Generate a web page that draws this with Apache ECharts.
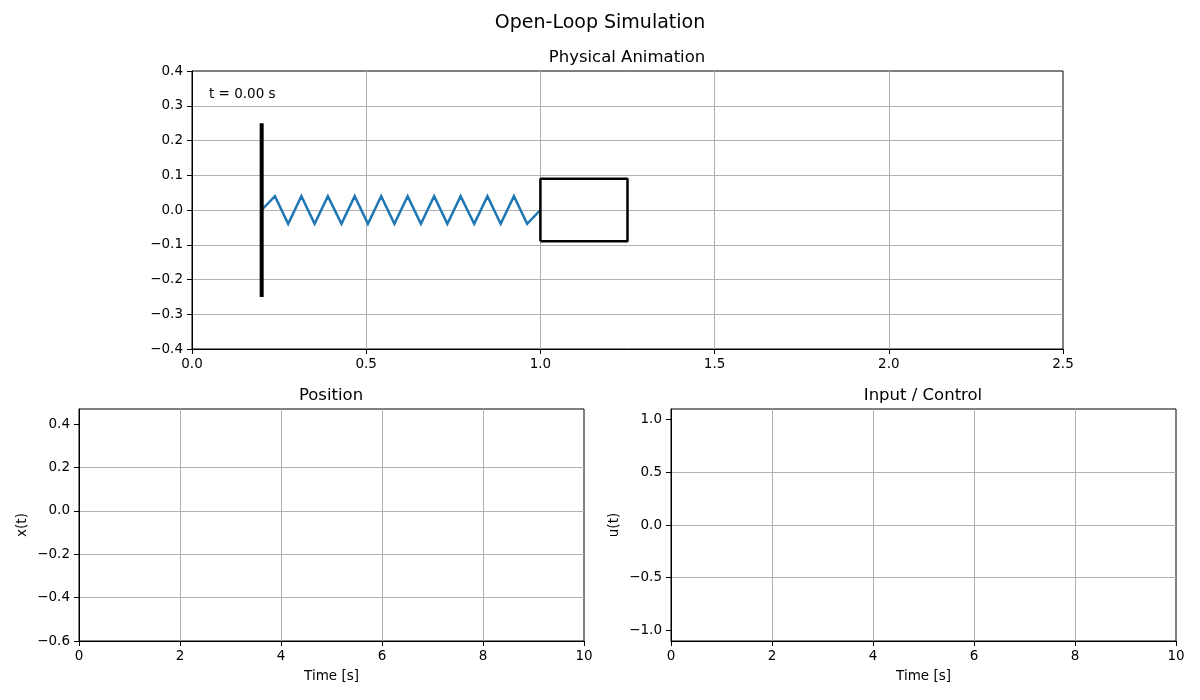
<!DOCTYPE html>
<html>
<head>
<meta charset="utf-8">
<title>Open-Loop Simulation</title>
<script src="https://cdn.jsdelivr.net/npm/echarts@6/dist/echarts.min.js"></script>
<style>
	html, body { margin: 0; padding: 0; background: #fff; }
	#chart { width: 1200px; height: 700px; }
</style>
</head>
<body>
<div id="chart"></div>
<script>
// spring zigzag (wall at 0.2, mass at 1.0)
var springX = [0.2, 0.238, 0.276, 0.314, 0.352, 0.390, 0.429, 0.467, 0.505, 0.543, 0.581,
	0.619, 0.657, 0.695, 0.733, 0.771, 0.810, 0.848, 0.886, 0.924, 0.962, 1.0];
var springY = [0, 0.04, -0.04, 0.04, -0.04, 0.04, -0.04, 0.04, -0.04, 0.04, -0.04,
	0.04, -0.04, 0.04, -0.04, 0.04, -0.04, 0.04, -0.04, 0.04, -0.04, 0];
// wall
var wallX = [0.2, 0.2];
var wallY = [-0.25, 0.25];
// mass box
var boxX = [1.0, 1.25, 1.25, 1.0, 1.0];
var boxY = [-0.09, -0.09, 0.09, 0.09, -0.09];
// time histories (empty at t = 0)
var timeData = [];
var positionData = [];
var controlData = [];
// tick values of the lower plots
var posTicks = [-0.6, -0.4, -0.2, 0.0, 0.2, 0.4];
var ctrlTicks = [-1.0, -0.5, 0.0, 0.5, 1.0];
var timeLabel = 't = 0.00 s';

var FONT = 'DejaVu Sans';

function zip(xs, ys) {
	var out = [];
	for (var i = 0; i < xs.length; i++) {
		out.push([xs[i], ys[i]]);
	}
	return out;
}

function fmt(digits) {
	return function (v) {
		var s = Math.abs(v).toFixed(digits);
		return v < -1e-9 ? '\u2212' + s : s;
	};
}

function xAxisOf(grid, min, max, interval, digits, name) {
	return {
		type: 'value', gridIndex: grid, min: min, max: max, interval: interval,
		name: name, nameLocation: 'middle', nameGap: 28,
		nameTextStyle: { fontFamily: FONT, fontSize: 13.5, color: '#000' },
		axisLine: { show: true, onZero: false, lineStyle: { color: '#000', width: 1 } },
		axisTick: { show: true, inside: false, length: 5, lineStyle: { color: '#000', width: 1 } },
		axisLabel: { fontFamily: FONT, fontSize: 13.5, color: '#000', margin: 8, formatter: fmt(digits) },
		splitLine: { show: true, showMinLine: false, showMaxLine: false,
			lineStyle: { color: '#b0b0b0', width: 1 } }
	};
}

function yAxisOf(grid, min, max, interval, digits, name, ticks) {
	var ax = {
		type: 'value', gridIndex: grid, min: min, max: max, interval: interval,
		name: name, nameLocation: 'middle', nameGap: 50,
		nameTextStyle: { fontFamily: FONT, fontSize: 13.5, color: '#000' },
		axisLine: { show: true, onZero: false, lineStyle: { color: '#000', width: 1 } },
		axisTick: { show: true, inside: false, length: 5, lineStyle: { color: '#000', width: 1 } },
		axisLabel: { fontFamily: FONT, fontSize: 13.5, color: '#000', margin: 9, formatter: fmt(digits) },
		splitLine: { show: true, showMinLine: false, showMaxLine: false,
			lineStyle: { color: '#b0b0b0', width: 1 } }
	};
	if (ticks) {
		ax.axisTick.customValues = ticks;
		ax.axisLabel.customValues = ticks;
	}
	return ax;
}

function titleOf(text, x, y, size) {
	return {
		text: text, left: x, top: y, textAlign: 'center', padding: 0,
		textStyle: { fontFamily: FONT, fontSize: size, fontWeight: 'normal', color: '#000' }
	};
}

var myChart = echarts.init(document.getElementById('chart'));
var option = {
	backgroundColor: '#fff',
	animation: false,
	title: [
		titleOf('Open-Loop Simulation', 600, 14, 19),
		titleOf('Physical Animation', 627, 49, 16.5),
		titleOf('Position', 331, 387, 16.5),
		titleOf('Input / Control', 923, 387, 16.5)
	],
	grid: [
		{ left: 192, right: 137, top: 71, bottom: 351, show: true, borderColor: '#000', borderWidth: 1 },
		{ left: 79, right: 616, top: 409, bottom: 59, show: true, borderColor: '#000', borderWidth: 1 },
		{ left: 671, right: 24, top: 409, bottom: 59, show: true, borderColor: '#000', borderWidth: 1 }
	],
	xAxis: [
		xAxisOf(0, 0, 2.5, 0.5, 1, ''),
		xAxisOf(1, 0, 10, 2, 0, 'Time [s]'),
		xAxisOf(2, 0, 10, 2, 0, 'Time [s]')
	],
	yAxis: [
		yAxisOf(0, -0.4, 0.4, 0.1, 1, ''),
		yAxisOf(1, -0.6, 0.47, 0.2, 1, 'x(t)', posTicks),
		yAxisOf(2, -1.1, 1.1, 0.5, 1, 'u(t)', ctrlTicks)
	],
	graphic: [
		{ type: 'text', left: 209, top: 87,
			style: { text: timeLabel, font: '13.5px "DejaVu Sans"', fill: '#000' } }
	],
	series: [
		{ name: 'wall', type: 'line', xAxisIndex: 0, yAxisIndex: 0, data: zip(wallX, wallY),
			symbol: 'none', lineStyle: { color: '#000', width: 4 }, z: 3 },
		{ name: 'spring', type: 'line', xAxisIndex: 0, yAxisIndex: 0, data: zip(springX, springY),
			symbol: 'none', lineStyle: { color: '#1f77b4', width: 2.5, join: 'miter' }, z: 2 },
		{ name: 'mass', type: 'line', xAxisIndex: 0, yAxisIndex: 0, data: zip(boxX, boxY),
			symbol: 'none', lineStyle: { color: '#000', width: 2.5 }, z: 3 },
		{ name: 'x(t)', type: 'line', xAxisIndex: 1, yAxisIndex: 1, data: zip(timeData, positionData),
			symbol: 'none', lineStyle: { color: '#1f77b4', width: 2 } },
		{ name: 'u(t)', type: 'line', xAxisIndex: 2, yAxisIndex: 2, data: zip(timeData, controlData),
			symbol: 'none', lineStyle: { color: '#ff7f0e', width: 2 } }
	]
};
myChart.setOption(option);
</script>
</body>
</html>
